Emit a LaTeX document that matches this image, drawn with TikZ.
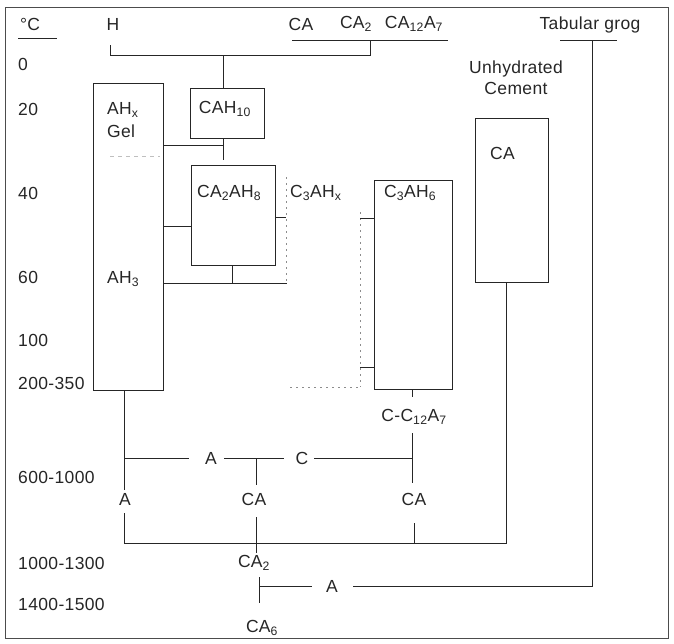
\documentclass[tikz,border=0pt]{standalone}
\usepackage{fontspec}
\setmainfont{Liberation Sans}[LetterSpace=2]
\begin{document}
\begin{tikzpicture}[x=1pt,y=-1pt,
  ln/.style={draw=black!85, line width=0.8pt},
  box/.style={draw=black!85, line width=0.8pt, inner sep=0pt, anchor=north west},
  lbl/.style={inner sep=0pt, text=black!85, font=\fontsize{17.5}{21}\selectfont},
  dotln/.style={draw=black!45, line width=0.8pt, dash pattern=on 2pt off 4pt},
  faint/.style={draw=black!25, line width=0.8pt, dash pattern=on 4pt off 4pt}]
\useasboundingbox (0,0) rectangle (674,643);
\draw[black!70, line width=0.8pt] (5,7) rectangle (668,638);

% boxes
\node[box, minimum width=70pt, minimum height=307pt] (ahx) at (93,83) {};
\node[box, minimum width=74pt, minimum height=50pt] (cah10) at (190,88) {};
\node[box, minimum width=84pt, minimum height=100pt] (ca2ah8) at (191,165) {};
\node[box, minimum width=78pt, minimum height=209pt] (c3ah6) at (374,180) {};
\node[box, minimum width=73pt, minimum height=164pt] (caunh) at (475,118) {};

% header labels
\node[lbl] (degc) at (30,24) {°C};
\node[lbl] (h) at (113,24) {H};
\node[lbl] (tca) at (301,24) {CA};
\node[lbl] (tca2) at (356,24) {CA\textsubscript{2}};
\node[lbl] (tca12) at (414,24) {CA\textsubscript{12}A\textsubscript{7}};
\node[lbl] (grog) at (590,25) {Tabular grog};
\node[lbl, align=center] (unh) at (516,78) {Unhydrated\\Cement};

% temperature labels
\node[lbl, anchor=west] (t0) at (18,64) {0};
\node[lbl, anchor=west] (t20) at (18,109) {20};
\node[lbl, anchor=west] (t40) at (18,193) {40};
\node[lbl, anchor=west] (t60) at (18,277) {60};
\node[lbl, anchor=west] (t100) at (18,340) {100};
\node[lbl, anchor=west] (t200) at (18,383) {200-350};
\node[lbl, anchor=west] (t600) at (18,477) {600-1000};
\node[lbl, anchor=west] (t1000) at (18,563) {1000-1300};
\node[lbl, anchor=west] (t1400) at (18,604) {1400-1500};

% box labels
\node[lbl, anchor=west] (lahx) at (107,110) {AH\textsubscript{x}};
\node[lbl, anchor=west] (lgel) at (107,131) {Gel};
\node[lbl, anchor=west] (lah3) at (107,279) {AH\textsubscript{3}};
\node[lbl] (lcah10) at (225,109) {CAH\textsubscript{10}};
\node[lbl, anchor=west] (lca2ah8) at (197,193) {CA\textsubscript{2}AH\textsubscript{8}};
\node[lbl, anchor=west] (lc3ahx) at (290,193) {C\textsubscript{3}AH\textsubscript{x}};
\node[lbl, anchor=west] (lc3ah6) at (384,193) {C\textsubscript{3}AH\textsubscript{6}};
\node[lbl, anchor=west] (lcaunh) at (490,153) {CA};

% lower labels
\node[lbl] (cc12) at (414,417) {C-C\textsubscript{12}A\textsubscript{7}};
\node[lbl] (mA) at (211,458) {A};
\node[lbl] (mC) at (302,458) {C};
\node[lbl] (pA) at (125,499) {A};
\node[lbl] (pCA) at (254,499) {CA};
\node[lbl] (qCA) at (414,499) {CA};
\node[lbl] (ca2) at (254,563) {CA\textsubscript{2}};
\node[lbl] (bA) at (332,586) {A};
\node[lbl] (ca6) at (262,628) {CA\textsubscript{6}};

% coordinates
\coordinate (hs) at (110,45);
\coordinate (hj) at (110,55);
\coordinate (mj) at (223,55);
\coordinate (cj) at (370,55);
\coordinate (cu) at (370,40);
\coordinate (gu) at (592,40);
\coordinate (gb) at (592,586);

% underlines
\draw[ln] (18,38) -- (57,38);
\draw[ln] (292,40) -- (448,40);
\draw[ln] (560,40) -- (617,40);

% top connectors
\draw[ln] (hs) -- (hj) -- (cj) -- (cu);
\draw[ln] (mj) -- (mj |- cah10.north);
\draw[ln] (cah10.south -| mj) -- (223,160);
\draw[ln] (ahx.east |- 0,145) -- (223,145);
\draw[ln] (ahx.east |- 0,226) -- (ca2ah8.west |- 0,226);
\draw[ln] (ca2ah8.south -| 232,0) -- (232,283);
\draw[ln] (ahx.east |- 0,283) -- (287,283);
\draw[ln] (ca2ah8.east |- 0,217) -- (286,217);
\draw[faint] (110,156) -- (160,156);

% dotted C3AHx region
\draw[dotln] (286,177) -- (286,283);
\draw[dotln] (360,212) -- (360,387);
\draw[dotln] (290,387) -- (360,387);
\draw[ln] (360,218) -- (c3ah6.west |- 0,218);
\draw[ln] (360,367) -- (c3ah6.west |- 0,367);

% C3AH6 down
\draw[ln] (c3ah6.south -| 412,0) -- (412,397);
\draw[ln] (412,433) -- (412,483);

% 600-1000 line
\draw[ln] (124,458) -- (189,458);
\draw[ln] (224,458) -- (284,458);
\draw[ln] (314,458) -- (412,458);
\draw[ln] (256,458) -- (256,485);

% left branch
\draw[ln] (ahx.south -| 124,0) -- (124,490);
\draw[ln] (124,513) -- (124,543) -- (506,543) -- (caunh.south -| 506,0);
\draw[ln] (256,517) -- (256,553);
\draw[ln] (414,523) -- (414,543);

% bottom
\draw[ln] (259,577) -- (259,603);
\draw[ln] (259,586) -- (312,586);
\draw[ln] (353,586) -- (gb) -- (gu);
\end{tikzpicture}
\end{document}
